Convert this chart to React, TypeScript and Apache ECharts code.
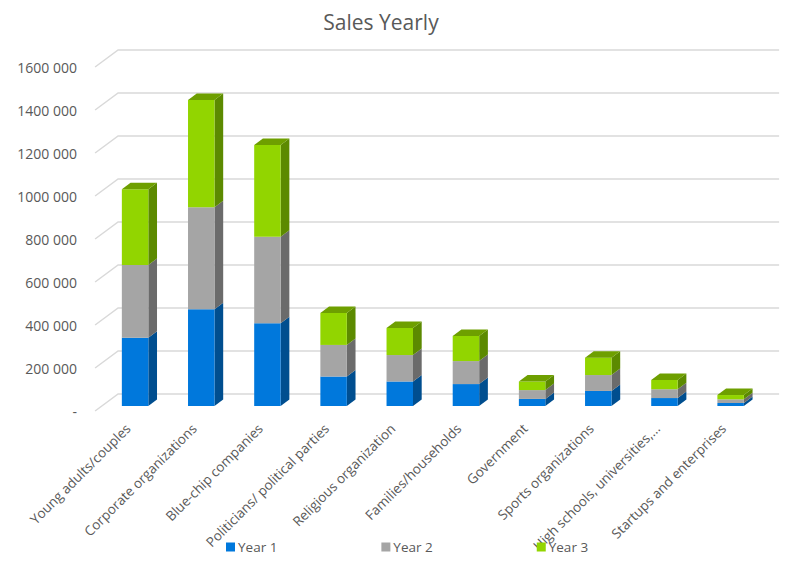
import React, { useEffect, useRef } from "react";
import * as echarts from "echarts";

const categories = [
  "Young adults/couples",
  "Corporate organizations",
  "Blue-chip companies",
  "Politicians/ political parties",
  "Religious organization",
  "Families/households",
  "Government",
  "Sports organizations",
  "High schools, universities,...",
  "Startups and enterprises",
];
const year1 = [318000, 450000, 385000, 137000, 114000, 102000, 33000, 70000, 37000, 14000];
const year2 = [338000, 474000, 402000, 147000, 123000, 107000, 41000, 74000, 41000, 17000];
const year3 = [352000, 499000, 427000, 149000, 126000, 117000, 40000, 81000, 43000, 20000];
const ticks = [0, 200000, 400000, 600000, 800000, 1000000, 1200000, 1400000, 1600000];

const FONT = "'Open Sans', sans-serif";
const TEXT = "#595959";
const DX = 8.7;
const DY = 6.5;
const LIFT = 5;

function barSeries(name: string, values: number[], bases: number[], front: string, side: string, top?: string) {
  return {
    type: "custom" as const,
    name,
    itemStyle: { color: front },
    data: values.map((v, i) => [i, bases[i], bases[i] + v]),
    encode: { x: 0, y: [1, 2] },
    clip: false,
    z: 3,
    renderItem(_: any, api: any) {
      const i = api.value(0);
      const [cx, y0] = api.coord([i, api.value(1)]);
      const [, y1] = api.coord([i, api.value(2)]);
      const w = api.size([1, 0])[0] * 0.4;
      const xl = cx - w / 2;
      const xr = cx + w / 2;
      const b = y0 - LIFT;
      const t = y1 - LIFT;
      const children: any[] = [
        { type: "polygon", shape: { points: [[xr, t], [xr + DX, t - DY], [xr + DX, b - DY], [xr, b]] }, style: { fill: side } },
        { type: "rect", shape: { x: xl, y: t, width: w, height: b - t }, style: { fill: front } },
      ];
      if (top) {
        children.push({ type: "polygon", shape: { points: [[xl, t], [xr, t], [xr + DX, t - DY], [xl + DX, t - DY]] }, style: { fill: top } });
      }
      return { type: "group", children };
    },
  };
}

export default function App() {
  const ref = useRef<HTMLDivElement>(null);
  useEffect(() => {
    const chart = echarts.init(ref.current!, null, { renderer: "svg" });
    const base2 = year1;
    const base3 = year1.map((v, i) => v + year2[i]);
    chart.setOption({
      animation: false,
      backgroundColor: "#fff",
      title: {
        text: "Sales Yearly",
        left: 376,
        top: 6,
        textAlign: "center",
        textStyle: { fontFamily: FONT, fontSize: 21, fontWeight: "normal", color: TEXT },
      },
      legend: {
        left: 226,
        top: 540,
        padding: 0,
        itemWidth: 9,
        itemHeight: 9,
        itemGap: 104,
        icon: "rect",
        data: ["Year 1", "Year 2", "Year 3"],
        textStyle: { fontFamily: FONT, fontSize: 13.5, color: TEXT, padding: [0, 0, 0, -2] },
      },
      grid: { left: 102, top: 67, width: 661.7, height: 344 },
      xAxis: {
        type: "category",
        data: categories,
        axisLine: { show: false },
        axisTick: { show: false },
        axisLabel: {
          rotate: 45,
          interval: 0,
          margin: 8,
          padding: [0, 10, 0, 0],
          fontFamily: FONT,
          fontSize: 13.5,
          color: TEXT,
        },
      },
      yAxis: {
        type: "value",
        min: 0,
        max: 1600000,
        interval: 200000,
        axisLine: { show: false },
        axisTick: { show: false },
        splitLine: { show: false },
        axisLabel: {
          margin: 25,
          fontFamily: FONT,
          fontSize: 14,
          color: TEXT,
          formatter: (v: number) =>
            v === 0 ? "-" : `${Math.floor(v / 1000)} ${String(v % 1000).padStart(3, "0")}`,
        },
      },
      series: [
        {
          type: "custom",
          name: "grid",
          data: ticks.map((v) => [0, v]),
          encode: { x: 0, y: 1 },
          clip: false,
          z: 1,
          silent: true,
          renderItem(_: any, api: any) {
            const [cx, y] = api.coord([0, api.value(1)]);
            const [cxEnd] = api.coord([categories.length - 1, api.value(1)]);
            return {
              type: "polyline",
              shape: { points: [[cx - 40, y], [cx - 17, y - 17], [cxEnd + 48.5, y - 17]] },
              style: { stroke: "#D9D9D9", lineWidth: 1.5, fill: "none" },
            };
          },
        },
        barSeries("Year 1", year1, year1.map(() => 0), "#0078DC", "#004E8F"),
        barSeries("Year 2", year2, base2, "#A5A5A5", "#6B6B6B"),
        barSeries("Year 3", year3, base3, "#92D500", "#5C8A00", "#6E9F00"),
      ],
    });
    return () => chart.dispose();
  }, []);
  return <div ref={ref} style={{ position: "absolute", left: 0, top: 0, width: 801, height: 563 }} />;
}
